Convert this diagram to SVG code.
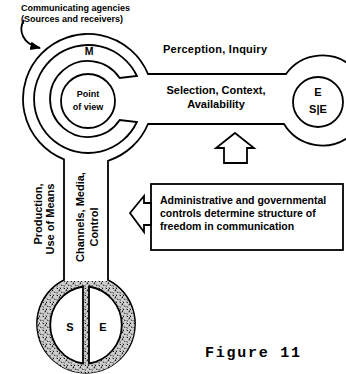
<svg xmlns="http://www.w3.org/2000/svg" width="346" height="374" viewBox="0 0 346 374">
  <defs>
    <style>
      .ln{fill:none;stroke:#000;stroke-width:1.8}
      .wh{fill:#fff;stroke:#000;stroke-width:1.8}
      .t{font-family:"Liberation Sans",Arial,sans-serif;font-weight:bold;font-size:11px;fill:#000}
      .s{font-size:9px}
      .m{font-size:10.5px}
      .fig{font-family:"Liberation Mono","Courier New",monospace;font-weight:bold;font-size:15px;fill:#000}
    </style>
    <pattern id="stip" width="7" height="7" patternUnits="userSpaceOnUse">
      <rect width="7" height="7" fill="#cfcfcf"/>
      <path d="M0.5,1 l1.5,0.8 M4,0.5 l0.8,1.6 M2.5,4 l1.6,-0.6 M5.2,4.6 l1,1.4 M0.6,5.6 l1.2,0.6 M3.2,2.2 l0.6,0.6" stroke="#111" stroke-width="1"/>
    </pattern>
    <marker id="ah" viewBox="0 0 10 10" refX="9" refY="5" markerWidth="6" markerHeight="6" orient="auto">
      <path d="M0,1 L10,5 L0,9 Z" fill="#000"/>
    </marker>
  </defs>
  <rect width="346" height="374" fill="#fff"/>

  <g id="outline">
    <path class="wh" d="M148,74 A65,65 0 1 0 64,159.4 L64,280 A49,49 0 1 0 108,280 L108,160.8 A65,65 0 0 0 148,124 L284,124 A45,45 0 1 0 286,74 Z"/>
  </g>

  <g id="stipple">
    <path d="M64.5,281 A48.5,48.5 0 1 0 107.5,281 Z" fill="url(#stip)"/>
    <path class="wh" d="M83,286.5 A39,39 0 0 0 83,363.5 Z"/>
    <path class="wh" d="M89,286.5 A39,39 0 0 1 89,363.5 Z"/>
    <text class="t" x="70" y="331" text-anchor="middle">S</text>
    <text class="t" x="103" y="331" text-anchor="middle">E</text>
  </g>

  <g id="ring-M">
    <path class="wh" d="M136.9,76 A54,54 0 1 0 136.9,122 L119.7,120 A38,38 0 1 1 119.7,78 Z"/>
    <text class="t m" x="89" y="55" text-anchor="middle">M</text>
  </g>

  <g id="point-of-view">
    <circle class="wh" cx="88" cy="101" r="27"/>
    <text class="t s" x="88" y="97" text-anchor="middle">Point</text>
    <text class="t s" x="88" y="110" text-anchor="middle">of view</text>
  </g>

  <g id="E-node">
    <circle class="wh" cx="318" cy="102" r="25"/>
    <text class="t" x="318" y="96" text-anchor="middle">E</text>
    <text class="t" x="318" y="113" text-anchor="middle">S|E</text>
  </g>

  <g id="labels">
    <text class="t s" x="21" y="11">Communicating agencies</text>
    <text class="t s" x="21" y="22">(Sources and receivers)</text>
    <text class="t" x="163" y="53" textLength="104">Perception, Inquiry</text>
    <text class="t" x="216" y="94" text-anchor="middle">Selection, Context,</text>
    <text class="t" x="216" y="108" text-anchor="middle">Availability</text>
    <text class="t" transform="translate(42,214) rotate(-90)" text-anchor="middle">Production,</text>
    <text class="t" transform="translate(54,219) rotate(-90)" text-anchor="middle">Use of Means</text>
    <text class="t" transform="translate(84,217) rotate(-90)" text-anchor="middle">Channels, Media,</text>
    <text class="t" transform="translate(98,227) rotate(-90)" text-anchor="middle">Control</text>
    <text class="fig" x="205" y="357" textLength="95">Figure 11</text>
  </g>

  <g id="admin-box">
    <rect class="wh" x="151" y="184" width="192" height="66"/>
    <text class="t m" x="160" y="204">Administrative and governmental</text>
    <text class="t m" x="160" y="217">controls determine structure of</text>
    <text class="t m" x="160" y="230">freedom in communication</text>
  </g>

  <g id="connectors">
    <path class="ln" d="M24,20 C18,30 22,44 40,48" marker-end="url(#ah)"/>
    <path class="wh" d="M235,133 L254,148 L247,148 L247,163 L224,163 L224,148 L216,148 Z"/>
    <path class="wh" d="M130,213 L144,196 L144,203 L151,203 L151,225 L144,225 L144,232 Z"/>
  </g>
</svg>
